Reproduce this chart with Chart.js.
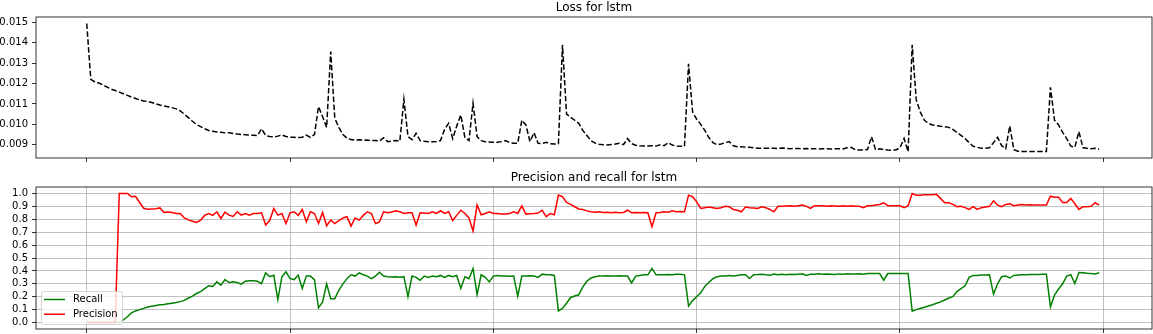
<!DOCTYPE html>
<html>
<head>
<meta charset="utf-8">
<script src="https://cdn.jsdelivr.net/npm/chart.js@4.4.1/dist/chart.umd.min.js"></script>
<style>
  html, body { margin: 0; padding: 0; background: #fff; }
  #wrap { position: relative; width: 1153px; height: 334px; overflow: hidden; }
  canvas { position: absolute; left: 0; }
  #lossCanvas { top: 0; }
  #prCanvas { top: 167px; }
</style>
</head>
<body>
<div id="wrap">
  <canvas id="lossCanvas" width="1153" height="167"></canvas>
  <canvas id="prCanvas" width="1153" height="167"></canvas>
</div>
<script>
// one value every STEP iterations, starting at 0
const STEP = 20;

const lossValues = [
  0.01495, 0.01221, 0.01208, 0.01203, 0.01193, 0.01183, 0.01173, 0.01166, 0.01158, 0.01150,
  0.01142, 0.01134, 0.01127, 0.01120, 0.01115, 0.01112, 0.01107, 0.01101, 0.01095, 0.01090,
  0.01086, 0.01082, 0.01076, 0.01066, 0.01050, 0.01033, 0.01015, 0.00999, 0.00989, 0.00978,
  0.00970, 0.00966, 0.00962, 0.00961, 0.00958, 0.00959, 0.00955, 0.00952, 0.00950, 0.00949,
  0.00947, 0.00946, 0.00945, 0.00978, 0.00945, 0.00940, 0.00938, 0.00942, 0.00948, 0.00940,
  0.00937, 0.00936, 0.00935, 0.00937, 0.00947, 0.00936, 0.00950, 0.01087, 0.01038, 0.00985,
  0.01357, 0.01030, 0.00985, 0.00950, 0.00932, 0.00925, 0.00922, 0.00924, 0.00922, 0.00923,
  0.00920, 0.00921, 0.00918, 0.00934, 0.00915, 0.00918, 0.00921, 0.00917, 0.01123, 0.00940,
  0.00925, 0.00956, 0.00920, 0.00917, 0.00915, 0.00914, 0.00916, 0.00920, 0.00975, 0.01005,
  0.00930, 0.00992, 0.01046, 0.00935, 0.00920, 0.01103, 0.00940, 0.00920, 0.00914, 0.00913,
  0.00912, 0.00912, 0.00915, 0.00920, 0.00910, 0.00907, 0.00907, 0.01020, 0.00997, 0.00915,
  0.00959, 0.00907, 0.00906, 0.00912, 0.00904, 0.00903, 0.00905, 0.01390, 0.01050, 0.01035,
  0.01020, 0.01005, 0.00970, 0.00945, 0.00920, 0.00908, 0.00902, 0.00900, 0.00899, 0.00901,
  0.00903, 0.00907, 0.00900, 0.00930, 0.00905, 0.00897, 0.00895, 0.00894, 0.00894, 0.00895,
  0.00893, 0.00900, 0.00895, 0.00910, 0.00898, 0.00893, 0.00892, 0.00892, 0.01297, 0.01060,
  0.01025, 0.01000, 0.00970, 0.00935, 0.00910, 0.00900, 0.00903, 0.00910, 0.00915, 0.00895,
  0.00890, 0.00890, 0.00888, 0.00887, 0.00885, 0.00882, 0.00883, 0.00882, 0.00883, 0.00882,
  0.00881, 0.00884, 0.00881, 0.00880, 0.00882, 0.00881, 0.00880, 0.00881, 0.00880, 0.00880,
  0.00879, 0.00880, 0.00880, 0.00879, 0.00880, 0.00880, 0.00879, 0.00885, 0.00887, 0.00875,
  0.00874, 0.00874, 0.00876, 0.00939, 0.00875, 0.00880, 0.00876, 0.00874, 0.00873, 0.00874,
  0.00885, 0.00931, 0.00866, 0.01390, 0.01120, 0.01060, 0.01020, 0.01005, 0.00997, 0.00993,
  0.00990, 0.00988, 0.00985, 0.00975, 0.00960, 0.00946, 0.00930, 0.00910, 0.00892, 0.00887,
  0.00883, 0.00882, 0.00885, 0.00910, 0.00936, 0.00895, 0.00880, 0.00992, 0.00875, 0.00868,
  0.00866, 0.00866, 0.00866, 0.00866, 0.00866, 0.00866, 0.00866, 0.01182, 0.01020, 0.00997,
  0.00960, 0.00930, 0.00893, 0.00888, 0.00964, 0.00885, 0.00882, 0.00880, 0.00882, 0.00877
];

const precisionValues = [
  0, 0, 0, 0, 0, 0, 0, 0, 1.0, 1.0,
  1.0, 0.975, 0.978, 0.93, 0.885, 0.878, 0.88, 0.882, 0.888, 0.853,
  0.856, 0.853, 0.845, 0.845, 0.81, 0.795, 0.785, 0.775, 0.793, 0.83,
  0.845, 0.83, 0.858, 0.806, 0.855, 0.832, 0.822, 0.858, 0.832, 0.845,
  0.832, 0.845, 0.845, 0.85, 0.755, 0.79, 0.884, 0.832, 0.845, 0.767,
  0.85, 0.858, 0.83, 0.876, 0.78, 0.858, 0.845, 0.767, 0.853, 0.75,
  0.793, 0.767, 0.79, 0.81, 0.82, 0.747, 0.81, 0.793, 0.83, 0.858,
  0.845, 0.767, 0.78, 0.858, 0.85, 0.856, 0.866, 0.858, 0.845, 0.85,
  0.85, 0.755, 0.85, 0.848, 0.845, 0.858, 0.845, 0.866, 0.845, 0.858,
  0.79, 0.83, 0.87, 0.845, 0.81, 0.71, 0.91, 0.835, 0.845, 0.858,
  0.845, 0.845, 0.84, 0.84, 0.845, 0.858, 0.845, 0.904, 0.84, 0.843,
  0.845, 0.848, 0.87, 0.82, 0.845, 0.835, 0.987, 0.975, 0.93, 0.915,
  0.897, 0.88, 0.875, 0.865, 0.858, 0.855, 0.858, 0.853, 0.855, 0.85,
  0.855, 0.85, 0.853, 0.87, 0.85, 0.853, 0.85, 0.853, 0.85, 0.742,
  0.85, 0.853, 0.858, 0.855, 0.866, 0.858, 0.86, 0.858, 0.987, 0.975,
  0.935, 0.884, 0.89, 0.895, 0.89, 0.884, 0.89, 0.9, 0.897, 0.876,
  0.87, 0.858, 0.895, 0.89, 0.888, 0.884, 0.897, 0.89, 0.876, 0.858,
  0.9, 0.9, 0.903, 0.905, 0.9, 0.905, 0.91, 0.9, 0.884, 0.905,
  0.905, 0.905, 0.9, 0.905, 0.903, 0.9, 0.905, 0.9, 0.905, 0.9,
  0.9, 0.89, 0.905, 0.905, 0.91, 0.915, 0.928, 0.905, 0.905, 0.905,
  0.905, 0.89, 0.905, 1.0, 0.987, 0.987, 0.99, 0.99, 0.99, 0.993,
  0.96, 0.928, 0.928, 0.915, 0.897, 0.9, 0.89, 0.876, 0.897, 0.876,
  0.89, 0.895, 0.9, 0.943, 0.91, 0.897, 0.915, 0.92, 0.905, 0.91,
  0.915, 0.91, 0.912, 0.91, 0.91, 0.91, 0.91, 0.979, 0.97, 0.97,
  0.93, 0.93, 0.961, 0.92, 0.876, 0.897, 0.897, 0.9, 0.928, 0.91
];

const recallValues = [
  0, 0, 0, 0, 0, 0, 0, 0, 0.0, 0.02,
  0.045, 0.075, 0.09, 0.10, 0.11, 0.12, 0.127, 0.132, 0.137, 0.14,
  0.145, 0.15, 0.155, 0.162, 0.172, 0.19, 0.205, 0.225, 0.24, 0.262,
  0.285, 0.28, 0.315, 0.29, 0.333, 0.31, 0.315, 0.31, 0.298, 0.32,
  0.323, 0.323, 0.32, 0.302, 0.385, 0.355, 0.366, 0.178, 0.355, 0.393,
  0.34, 0.333, 0.366, 0.264, 0.36, 0.36, 0.333, 0.114, 0.16, 0.30,
  0.185, 0.185, 0.25, 0.30, 0.34, 0.37, 0.36, 0.385, 0.37, 0.36,
  0.34, 0.36, 0.39, 0.36, 0.355, 0.353, 0.355, 0.35, 0.355, 0.2,
  0.36, 0.35, 0.328, 0.36, 0.35, 0.36, 0.355, 0.365, 0.35, 0.365,
  0.355, 0.365, 0.264, 0.355, 0.34, 0.419, 0.217, 0.37, 0.35, 0.315,
  0.36, 0.365, 0.36, 0.36, 0.358, 0.36, 0.204, 0.36, 0.36, 0.362,
  0.36, 0.35, 0.375, 0.37, 0.37, 0.365, 0.09, 0.11, 0.15, 0.194,
  0.205, 0.215, 0.276, 0.32, 0.345, 0.355, 0.36, 0.36, 0.363, 0.36,
  0.36, 0.362, 0.36, 0.36, 0.307, 0.36, 0.365, 0.37, 0.37, 0.419,
  0.37, 0.37, 0.37, 0.372, 0.37, 0.375, 0.375, 0.37, 0.127, 0.17,
  0.2, 0.23, 0.28, 0.31, 0.34, 0.355, 0.36, 0.36, 0.365, 0.36,
  0.365, 0.37, 0.37, 0.341, 0.37, 0.372, 0.375, 0.37, 0.367, 0.375,
  0.37, 0.375, 0.37, 0.375, 0.372, 0.375, 0.378, 0.365, 0.375, 0.375,
  0.378, 0.375, 0.377, 0.375, 0.373, 0.377, 0.375, 0.378, 0.376, 0.377,
  0.378, 0.375, 0.38, 0.38, 0.38, 0.38, 0.328, 0.38, 0.38, 0.38,
  0.38, 0.38, 0.38, 0.088, 0.1, 0.109, 0.118, 0.128, 0.138, 0.15,
  0.16, 0.175, 0.19, 0.2, 0.24, 0.262, 0.285, 0.35, 0.365, 0.365,
  0.368, 0.368, 0.37, 0.22, 0.3, 0.355, 0.36, 0.345, 0.365, 0.368,
  0.37, 0.37, 0.372, 0.372, 0.372, 0.375, 0.375, 0.121, 0.212, 0.26,
  0.3, 0.36, 0.37, 0.302, 0.388, 0.385, 0.382, 0.38, 0.376, 0.385
];

const xTicks = [0, 1000, 2000, 3000, 4000, 5000];
const lossTicks = [0.009, 0.010, 0.011, 0.012, 0.013, 0.014, 0.015];
const prTicks = [0.0, 0.1, 0.2, 0.3, 0.4, 0.5, 0.6, 0.7, 0.8, 0.9, 1.0];

const legendItems = [
  { label: "Recall", color: "#008000" },
  { label: "Precision", color: "#ff0000" },
];

Chart.defaults.font.family = '"DejaVu Sans", sans-serif';
Chart.defaults.font.size = 10;
Chart.defaults.color = "#000";

const toPoints = vals => vals.map((v, i) => ({ x: i * STEP, y: v }));

const setTicks = list => scale => { scale.ticks = list.map(v => ({ value: v })); };

// axes box (spines) + title
const frameTitle = {
    id: "frameTitle",
    afterDatasetsDraw(chart, args, opts) {
        const { ctx, chartArea: a } = chart;
        ctx.save();
        ctx.strokeStyle = "#000";
        ctx.lineWidth = 0.8;
        ctx.strokeRect(a.left, a.top, a.right - a.left, a.bottom - a.top);
        ctx.font = '12px "DejaVu Sans"';
        ctx.fillStyle = "#000";
        ctx.textAlign = "center";
        ctx.textBaseline = "alphabetic";
        ctx.fillText(opts.text, (a.left + a.right) / 2, a.top - 6);
        ctx.restore();
    }
};

// matplotlib style legend, lower left
const boxLegend = {
    id: "boxLegend",
    afterDraw(chart, args, opts) {
        if (!opts.items) return;
        const { ctx, chartArea: a } = chart;
        const w = 81, h = 33;
        const x = a.left + 5, y = a.bottom - 5 - h;
        ctx.save();
        ctx.beginPath();
        ctx.roundRect(x + 0.5, y + 0.5, w, h, 2);
        ctx.fillStyle = "rgba(255,255,255,0.8)";
        ctx.fill();
        ctx.strokeStyle = "rgba(204,204,204,0.8)";
        ctx.lineWidth = 1;
        ctx.stroke();
        opts.items.forEach((it, i) => {
            const ry = y + 8.5 + i * 14.7;
            ctx.beginPath();
            ctx.moveTo(x + 3, ry);
            ctx.lineTo(x + 24, ry);
            ctx.strokeStyle = it.color;
            ctx.lineWidth = 1.5;
            ctx.stroke();
            ctx.fillStyle = "#000";
            ctx.font = '10px "DejaVu Sans"';
            ctx.textBaseline = "middle";
            ctx.textAlign = "left";
            ctx.fillText(it.label, x + 32, ry);
        });
        ctx.restore();
    }
};

// fixed axis sizes, and no label padding pushing the plot area around
function fixSize(prop, size) {
    return s => {
        s[prop] = size;
        s.paddingTop = 0;
        s.paddingBottom = 0;
        s.paddingLeft = 0;
        s.paddingRight = 0;
    };
}

function xAxis(height, gridOn) {
    return {
        type: "linear",
        min: -249.5,
        max: 5239.5,
        afterBuildTicks: setTicks(xTicks),
        afterFit: fixSize("height", height),
        border: { display: false },
        grid: {
            drawOnChartArea: gridOn,
            color: "#b0b0b0",
            lineWidth: 0.8,
            tickLength: 4,
            tickColor: "#000",
            tickWidth: 0.8,
        },
        ticks: { autoSkip: false, maxRotation: 0, callback: () => "" },
    };
}

function yAxis(min, max, list, digits, gridOn) {
    return {
        type: "linear",
        min, max,
        afterBuildTicks: setTicks(list),
        afterFit: fixSize("width", 36),
        border: { display: false },
        grid: {
            drawOnChartArea: gridOn,
            color: "#b0b0b0",
            lineWidth: 0.8,
            tickLength: 4,
            tickColor: "#000",
            tickWidth: 0.8,
        },
        ticks: {
            autoSkip: false,
            padding: 4,
            callback: v => Number(v).toFixed(digits),
        },
    };
}

new Chart(document.getElementById("lossCanvas"), {
    type: "line",
    data: {
        datasets: [{
            data: toPoints(lossValues),
            borderColor: "#000",
            borderWidth: 1.5,
            borderDash: [5.5, 2.4],
            pointRadius: 0,
            tension: 0,
        }]
    },
    options: {
        responsive: false,
        animation: false,
        layout: { padding: { top: 17, right: 1, left: 0, bottom: 0 } },
        plugins: {
            legend: { display: false },
            tooltip: { enabled: false },
            frameTitle: { text: "Loss for lstm" },
        },
        scales: {
            x: xAxis(9, false),
            y: yAxis(0.008346, 0.01527, lossTicks, 3, false),
        },
    },
    plugins: [frameTitle],
});

new Chart(document.getElementById("prCanvas"), {
    type: "line",
    data: {
        datasets: [
            {
                label: "Precision",
                data: toPoints(precisionValues),
                borderColor: "#ff0000",
                borderWidth: 1.5,
                pointRadius: 0,
                tension: 0,
            },
            {
                label: "Recall",
                data: toPoints(recallValues),
                borderColor: "#008000",
                borderWidth: 1.5,
                pointRadius: 0,
                tension: 0,
            },
        ]
    },
    options: {
        responsive: false,
        animation: false,
        layout: { padding: { top: 20, right: 1, left: 0, bottom: 0 } },
        plugins: {
            legend: { display: false },
            tooltip: { enabled: false },
            frameTitle: { text: "Precision and recall for lstm" },
            boxLegend: { items: legendItems },
        },
        scales: {
            x: xAxis(5, true),
            y: yAxis(-0.05, 1.05, prTicks, 1, true),
        },
    },
    plugins: [frameTitle, boxLegend],
});
</script>
</body>
</html>
